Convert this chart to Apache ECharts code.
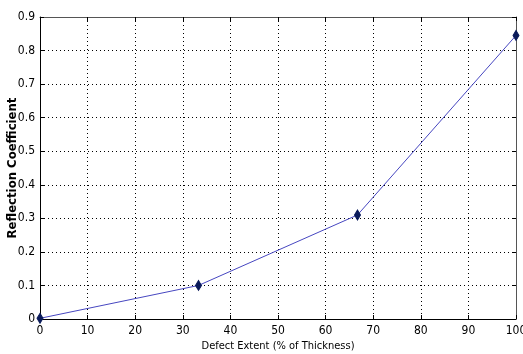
<!DOCTYPE html>
<html>
<head>
<meta charset="utf-8">
<script src="https://cdn.jsdelivr.net/npm/echarts@6/dist/echarts.min.js"></script>
<style>
  html, body { margin: 0; padding: 0; background: #fff; }
  #chart { width: 523px; height: 354px; }
</style>
</head>
<body>
<div id="chart"></div>
<script>
// data
const defectExtent = [0, 33.3, 66.7, 100];
const reflection = [0.002, 0.1, 0.31, 0.845];

const font = '"DejaVu Sans Condensed", "Liberation Sans Narrow", "Liberation Sans", sans-serif';

const chart = echarts.init(document.getElementById('chart'));

const axisCommon = {
  axisLine: { show: true, onZero: false, lineStyle: { color: '#000', width: 1 } },
  axisTick: { show: true, inside: true, length: 4, lineStyle: { color: '#000' } },
  splitLine: { show: true, lineStyle: { color: '#000', type: [1, 3], width: 1 } },
  axisLabel: { color: '#000', fontFamily: font, fontSize: 12 }
};

chart.setOption({
  animation: false,
  grid: { left: 40, right: 7, top: 17, bottom: 35, containLabel: false, outerBoundsMode: 'none' },
  xAxis: [
    Object.assign({}, axisCommon, {
      type: 'value', min: 0, max: 100, interval: 10,
      name: 'Defect Extent (% of Thickness)',
      nameLocation: 'middle', nameGap: 22, nameMoveOverlap: false,
      nameTextStyle: { color: '#000', fontFamily: font, fontSize: 11 },
      axisLabel: Object.assign({}, axisCommon.axisLabel, { margin: 6 })
    }),
    {
      type: 'value', min: 0, max: 100, interval: 10, position: 'top',
      axisLine: { show: true, onZero: false, lineStyle: { color: '#555' } },
      axisTick: { show: true, inside: true, length: 4, lineStyle: { color: '#000' } },
      axisLabel: { show: false }, splitLine: { show: false }
    }
  ],
  yAxis: [
    Object.assign({}, axisCommon, {
      type: 'value', min: 0, max: 0.9, interval: 0.1,
      name: 'Reflection Coefficient',
      nameLocation: 'middle', nameGap: 21, nameMoveOverlap: false,
      nameTextStyle: { color: '#000', fontFamily: font, fontSize: 13, fontWeight: 'bold' },
      axisLabel: Object.assign({}, axisCommon.axisLabel, { margin: 5 })
    }),
    {
      type: 'value', min: 0, max: 0.9, interval: 0.1, position: 'right',
      axisLine: { show: true, onZero: false, lineStyle: { color: '#555' } },
      axisTick: { show: true, inside: true, length: 4, lineStyle: { color: '#000' } },
      axisLabel: { show: false }, splitLine: { show: false }
    }
  ],
  series: [
    {
      type: 'line',
      data: defectExtent.map((x, i) => [x, reflection[i]]),
      lineStyle: { color: '#4646c0', width: 1 },
      symbol: 'diamond',
      symbolSize: [6, 10],
      itemStyle: { color: '#0a1a5a', borderColor: '#0a1a5a' },
      clip: false
    }
  ]
});
</script>
</body>
</html>
